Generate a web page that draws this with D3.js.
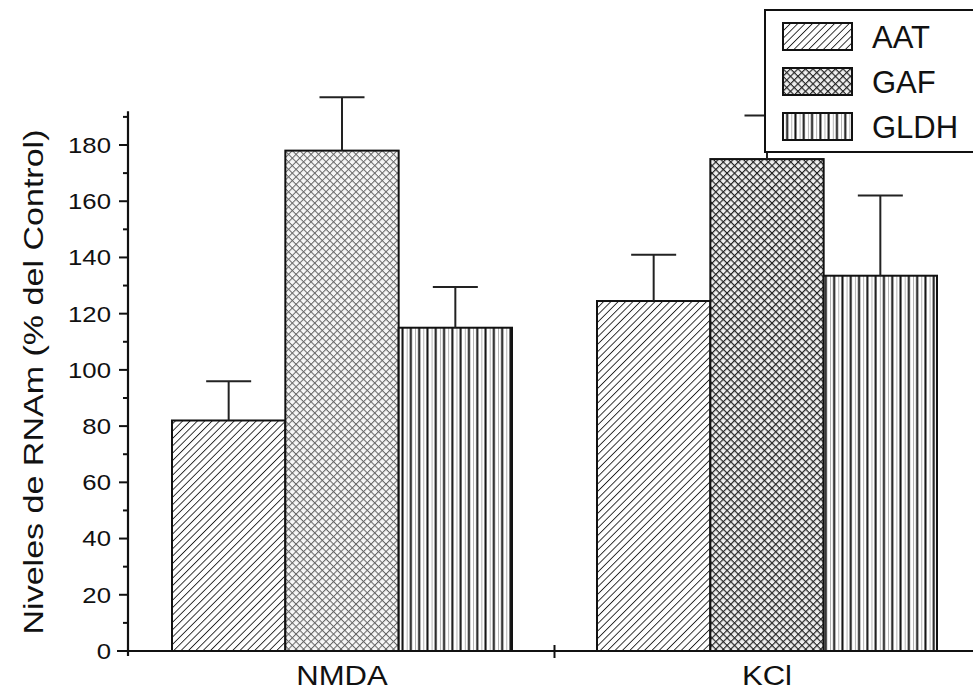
<!DOCTYPE html>
<html>
<head>
<meta charset="utf-8">
<script src="https://cdn.jsdelivr.net/npm/d3@7"></script>
<style>
    body { margin: 0; background: #ffffff; }
    svg { display: block; font-family: "Liberation Sans", Arial, sans-serif; }
</style>
</head>
<body>
<svg id="chart" width="973" height="694"></svg>
<script>
// data
const groups = ["NMDA", "KCl"];
const series = ["AAT", "GAF", "GLDH"];
const valuesNMDA = [82, 178, 115];
const valuesKCl = [124.5, 175, 133.5];
const errorsNMDA = [14, 19, 14.5];
const errorsKCl = [16.5, 15.5, 28.5];
const yTicks = [0, 20, 40, 60, 80, 100, 120, 140, 160, 180];
const yMinorTicks = [10, 30, 50, 70, 90, 110, 130, 150, 170, 190];

const rows = [];
groups.forEach((g, gi) => {
    const vals = gi === 0 ? valuesNMDA : valuesKCl;
    const errs = gi === 0 ? errorsNMDA : errorsKCl;
    series.forEach((s, si) => {
        rows.push({ group: g, series: s, value: vals[si], err: errs[si] });
    });
});

const svg = d3.select("#chart");
const ink = "#111";

// patterns
const defs = svg.append("defs");

function hatch(id, size, color, width) {
    const p = defs.append("pattern")
        .attr("id", id)
        .attr("patternUnits", "userSpaceOnUse")
        .attr("width", size).attr("height", size)
        .attr("patternTransform", "rotate(45)");
    p.append("rect").attr("width", size).attr("height", size).attr("fill", "#fff");
    p.append("line").attr("x1", 0).attr("y1", 0).attr("x2", 0).attr("y2", size)
        .attr("stroke", color).attr("stroke-width", width);
}

function cross(id, size, color, width, bg) {
    const p = defs.append("pattern")
        .attr("id", id)
        .attr("patternUnits", "userSpaceOnUse")
        .attr("width", size).attr("height", size)
        .attr("patternTransform", "rotate(45)");
    p.append("rect").attr("width", size).attr("height", size).attr("fill", bg);
    p.append("line").attr("x1", 0).attr("y1", 0).attr("x2", 0).attr("y2", size)
        .attr("stroke", color).attr("stroke-width", width);
    p.append("line").attr("x1", 0).attr("y1", 0).attr("x2", size).attr("y2", 0)
        .attr("stroke", color).attr("stroke-width", width);
}

function vlines(id, size, color, width) {
    const p = defs.append("pattern")
        .attr("id", id)
        .attr("patternUnits", "userSpaceOnUse")
        .attr("width", size).attr("height", size);
    p.append("rect").attr("width", size).attr("height", size).attr("fill", "#fff");
    p.append("line").attr("x1", size / 2).attr("y1", 0).attr("x2", size / 2).attr("y2", size)
        .attr("stroke", color).attr("stroke-width", width);
    p.append("line").attr("x1", 0.5).attr("y1", 0).attr("x2", 0.5).attr("y2", size)
        .attr("stroke", "#aaa").attr("stroke-width", 0.9);
}

hatch("pAAT", 5.2, "#222", 1.8);
cross("pGAFlight", 5.3, "#666", 2, "#f6f6f6");
cross("pGAF", 5.3, "#222", 2.3, "#eee");
vlines("pGLDH", 8.3, "#111", 2);

function fillFor(d) {
    if (d.series === "AAT") return "url(#pAAT)";
    if (d.series === "GLDH") return "url(#pGLDH)";
    return d.group === "NMDA" ? "url(#pGAFlight)" : "url(#pGAF)";
}

// scales
const y = d3.scaleLinear().domain([0, 180]).range([651, 145]);
const x0 = d3.scaleBand().domain(groups).range([129.5, 979.5])
    .paddingInner(0.2).paddingOuter(0.1);
const x1 = d3.scaleBand().domain(series).range([0, x0.bandwidth()]);

function stretch(sel, k) {
    sel.each(function () {
        const len = this.getComputedTextLength();
        d3.select(this).attr("textLength", len * k).attr("lengthAdjust", "spacingAndGlyphs");
    });
}

// bars
const bar = svg.append("g")
    .selectAll("g")
    .data(rows)
    .enter().append("g");

bar.append("rect")
    .attr("x", d => x0(d.group) + x1(d.series))
    .attr("y", d => y(d.value))
    .attr("width", x1.bandwidth())
    .attr("height", d => y(0) - y(d.value))
    .attr("fill", fillFor)
    .attr("stroke", ink)
    .attr("stroke-width", 2);

// error bars (upper only)
const capHalf = 22.5;
bar.append("line")
    .attr("x1", d => x0(d.group) + x1(d.series) + x1.bandwidth() / 2)
    .attr("x2", d => x0(d.group) + x1(d.series) + x1.bandwidth() / 2)
    .attr("y1", d => y(d.value))
    .attr("y2", d => y(d.value + d.err))
    .attr("stroke", "#222")
    .attr("stroke-width", 2);

bar.append("line")
    .attr("x1", d => x0(d.group) + x1(d.series) + x1.bandwidth() / 2 - capHalf)
    .attr("x2", d => x0(d.group) + x1(d.series) + x1.bandwidth() / 2 + capHalf)
    .attr("y1", d => y(d.value + d.err))
    .attr("y2", d => y(d.value + d.err))
    .attr("stroke", "#222")
    .attr("stroke-width", 2);

// y axis
const axisX = 128;
const yAxis = svg.append("g");
yAxis.append("line")
    .attr("x1", axisX).attr("x2", axisX)
    .attr("y1", y(0) + 5).attr("y2", y(192))
    .attr("stroke", ink).attr("stroke-width", 2.2);

yAxis.selectAll(".major")
    .data(yTicks)
    .enter().append("line")
    .attr("x1", axisX - 9).attr("x2", axisX)
    .attr("y1", d => y(d)).attr("y2", d => y(d))
    .attr("stroke", ink).attr("stroke-width", 2);

yAxis.selectAll(".minor")
    .data(yMinorTicks)
    .enter().append("line")
    .attr("x1", axisX - 5).attr("x2", axisX)
    .attr("y1", d => y(d)).attr("y2", d => y(d))
    .attr("stroke", ink).attr("stroke-width", 2);

yAxis.selectAll("text")
    .data(yTicks)
    .enter().append("text")
    .attr("x", 111)
    .attr("y", d => y(d))
    .attr("dy", "0.36em")
    .attr("text-anchor", "end")
    .attr("font-size", 22)
    .attr("fill", ink)
    .text(d => d)
    .call(stretch, 1.17);

svg.append("text")
    .attr("transform", "translate(43,382) rotate(-90)")
    .attr("text-anchor", "middle")
    .attr("font-size", 28)
    .attr("fill", ink)
    .attr("textLength", 505)
    .attr("lengthAdjust", "spacingAndGlyphs")
    .text("Niveles de RNAm (% del Control)");

// x axis
const xAxis = svg.append("g");
xAxis.append("line")
    .attr("x1", 117).attr("x2", 973)
    .attr("y1", y(0)).attr("y2", y(0))
    .attr("stroke", ink).attr("stroke-width", 2.2);

const midTick = (x0("NMDA") + x0.bandwidth() + x0("KCl")) / 2;
xAxis.append("line")
    .attr("x1", midTick).attr("x2", midTick)
    .attr("y1", y(0) - 6).attr("y2", y(0) + 7)
    .attr("stroke", ink).attr("stroke-width", 2);

xAxis.selectAll("text")
    .data(groups)
    .enter().append("text")
    .attr("x", d => x0(d) + x0.bandwidth() / 2)
    .attr("y", 685)
    .attr("text-anchor", "middle")
    .attr("font-size", 27)
    .attr("fill", ink)
    .text(d => d)
    .call(stretch, 1.15);

// legend
const legend = svg.append("g");
legend.append("rect")
    .attr("x", 765).attr("y", 10)
    .attr("width", 240).attr("height", 142)
    .attr("fill", "#fff")
    .attr("stroke", ink).attr("stroke-width", 2);

const legendFill = { AAT: "url(#pAAT)", GAF: "url(#pGAF)", GLDH: "url(#pGLDH)" };

const item = legend.selectAll(".item")
    .data(series)
    .enter().append("g")
    .attr("transform", (d, i) => `translate(783,${23 + i * 45})`);

item.append("rect")
    .attr("width", 69).attr("height", 27)
    .attr("fill", d => legendFill[d])
    .attr("stroke", ink).attr("stroke-width", 2);

item.append("text")
    .attr("x", 89)
    .attr("y", 25)
    .attr("font-size", 31)
    .attr("fill", ink)
    .text(d => d);
</script>
</body>
</html>
